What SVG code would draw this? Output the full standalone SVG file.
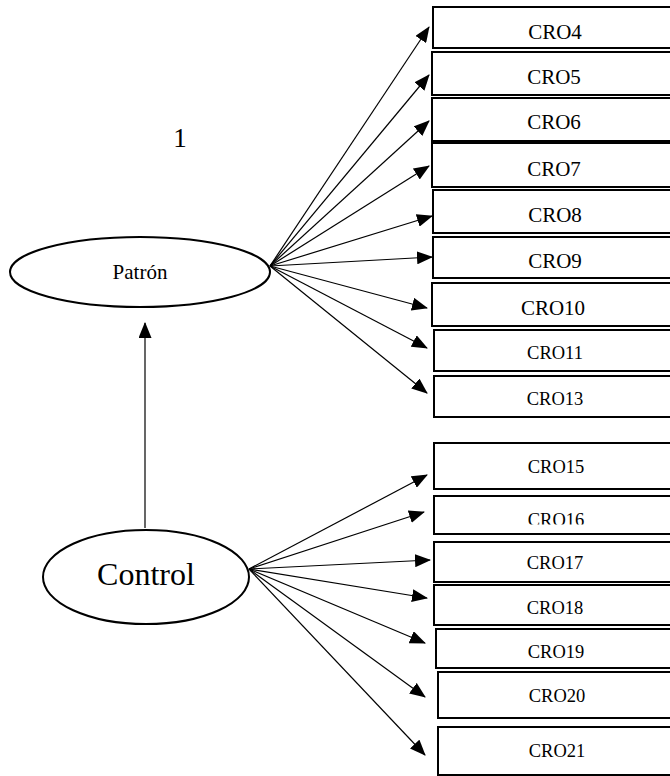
<svg xmlns="http://www.w3.org/2000/svg" width="670" height="776" viewBox="0 0 670 776">
<style>
.box{fill:#fff;stroke:#000;stroke-width:2}
.ell{fill:#fff;stroke:#000;stroke-width:2}
.lbl{font-family:"Liberation Serif","Times New Roman",serif;text-anchor:middle;fill:#000}
.edge{stroke:#000;stroke-width:1.2;fill:none;marker-end:url(#ah)}
</style>
<defs>
<marker id="ah" markerUnits="userSpaceOnUse" markerWidth="16" markerHeight="13" refX="15" refY="6.5" orient="auto">
<path d="M0,0 L16,6.5 L0,13 z" fill="#000"/>
</marker>
<clipPath id="c16"><rect x="434" y="496" width="240" height="28.5"/></clipPath>
</defs>
<rect width="670" height="776" fill="#fff"/>
<text class="lbl" x="180" y="147" font-size="27">1</text>
<g id="connectors">
<line class="edge" x1="145" y1="528" x2="145" y2="323"/>
<line class="edge" x1="270" y1="266" x2="429" y2="27"/>
<line class="edge" x1="270" y1="266" x2="429" y2="75"/>
<line class="edge" x1="270" y1="266" x2="429" y2="121"/>
<line class="edge" x1="270" y1="266" x2="429" y2="166"/>
<line class="edge" x1="270" y1="266" x2="432" y2="216"/>
<line class="edge" x1="270" y1="266" x2="432" y2="257"/>
<line class="edge" x1="270" y1="266" x2="427" y2="308"/>
<line class="edge" x1="270" y1="266" x2="427" y2="348"/>
<line class="edge" x1="270" y1="266" x2="427" y2="393"/>
<line class="edge" x1="249" y1="569" x2="427" y2="475"/>
<line class="edge" x1="249" y1="569" x2="424" y2="512"/>
<line class="edge" x1="249" y1="569" x2="430" y2="560"/>
<line class="edge" x1="249" y1="569" x2="427" y2="598"/>
<line class="edge" x1="249" y1="569" x2="425" y2="643"/>
<line class="edge" x1="249" y1="569" x2="425" y2="697"/>
<line class="edge" x1="249" y1="569" x2="425" y2="755"/>
</g>
<g id="patron"><ellipse class="ell" cx="140" cy="272" rx="130" ry="35"/><text class="lbl" x="140" y="279" font-size="21">Patrón</text></g>
<g id="control"><ellipse class="ell" cx="146" cy="577" rx="103" ry="47"/><text class="lbl" x="146" y="585" font-size="32">Control</text></g>
<g id="cro4"><rect class="box" x="433" y="7" width="250" height="41"/><text class="lbl" x="555" y="39" font-size="21">CRO4</text></g>
<g id="cro5"><rect class="box" x="432" y="52" width="250" height="43"/><text class="lbl" x="554" y="84" font-size="21">CRO5</text></g>
<g id="cro6"><rect class="box" x="432" y="98" width="250" height="43"/><text class="lbl" x="554" y="129" font-size="21">CRO6</text></g>
<g id="cro7"><rect class="box" x="432" y="143" width="250" height="44"/><text class="lbl" x="554" y="176" font-size="21">CRO7</text></g>
<g id="cro8"><rect class="box" x="433" y="190" width="250" height="43"/><text class="lbl" x="555" y="222" font-size="21">CRO8</text></g>
<g id="cro9"><rect class="box" x="433" y="237" width="250" height="41"/><text class="lbl" x="555" y="268" font-size="21">CRO9</text></g>
<g id="cro10"><rect class="box" x="432" y="283" width="250" height="43"/><text class="lbl" x="553" y="315" font-size="21">CRO10</text></g>
<g id="cro11"><rect class="box" x="434" y="330" width="250" height="41"/><text class="lbl" x="555" y="359" font-size="18.5">CRO11</text></g>
<g id="cro13"><rect class="box" x="434" y="376" width="250" height="41"/><text class="lbl" x="555" y="405" font-size="18.5">CRO13</text></g>
<g id="cro15"><rect class="box" x="434" y="443" width="250" height="46"/><text class="lbl" x="556" y="473" font-size="18.5">CRO15</text></g>
<g id="cro16"><rect class="box" x="434" y="496" width="250" height="38"/><text class="lbl" x="556" y="526" font-size="18.5" clip-path="url(#c16)">CRO16</text></g>
<g id="cro17"><rect class="box" x="434" y="542" width="250" height="40"/><text class="lbl" x="555" y="569" font-size="18.5">CRO17</text></g>
<g id="cro18"><rect class="box" x="434" y="585" width="250" height="40"/><text class="lbl" x="555" y="614" font-size="18.5">CRO18</text></g>
<g id="cro19"><rect class="box" x="436" y="629" width="250" height="39"/><text class="lbl" x="556" y="658" font-size="18.5">CRO19</text></g>
<g id="cro20"><rect class="box" x="438" y="672" width="250" height="46"/><text class="lbl" x="557" y="702" font-size="18.5">CRO20</text></g>
<g id="cro21"><rect class="box" x="438" y="727" width="250" height="48"/><text class="lbl" x="557" y="757" font-size="18.5">CRO21</text></g>
</svg>
